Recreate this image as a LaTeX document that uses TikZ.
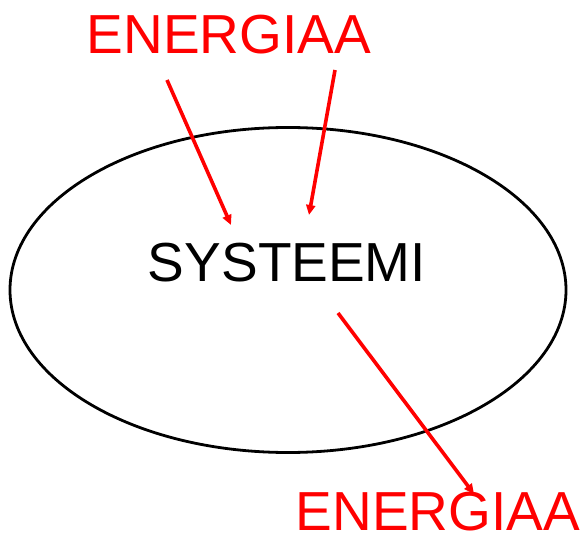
\documentclass[tikz,border=0pt]{standalone}
\usepackage{fontspec}
\setmainfont{Liberation Sans}
\usetikzlibrary{positioning, arrows.meta, shapes.geometric}

\begin{document}
\begin{tikzpicture}[x=1pt, y=-1pt, every node/.style={inner sep=0pt, font=\fontsize{55}{60}\selectfont},
    energy/.style={text=red},
    flow/.style={draw=red, line width=3.6pt, -{Triangle[length=10pt, width=9pt]}}]
    \useasboundingbox (0,0) rectangle (583,537);
    \node (sys) [draw, ellipse, line width=2.8pt, minimum width=556pt, minimum height=325pt] at (288,290) {};
    \node (syslabel) at (287,263) {SYSTEEMI};
    \node (ein)  [energy] at (229,35) {ENERGIAA};
    \node (eout) [energy] at (438,512) {ENERGIAA};
    \coordinate (a1) at (167,80);
    \coordinate (b1) at (231,225);
    \coordinate (a2) at (335,70);
    \coordinate (b2) at (309,215);
    \coordinate (a3) at (338,313);
    \coordinate (b3) at (474,494);
    \draw[flow] (a1) -- (b1);
    \draw[flow] (a2) -- (b2);
    \draw[flow] (a3) -- (b3);
  \end{tikzpicture}
\end{document}
